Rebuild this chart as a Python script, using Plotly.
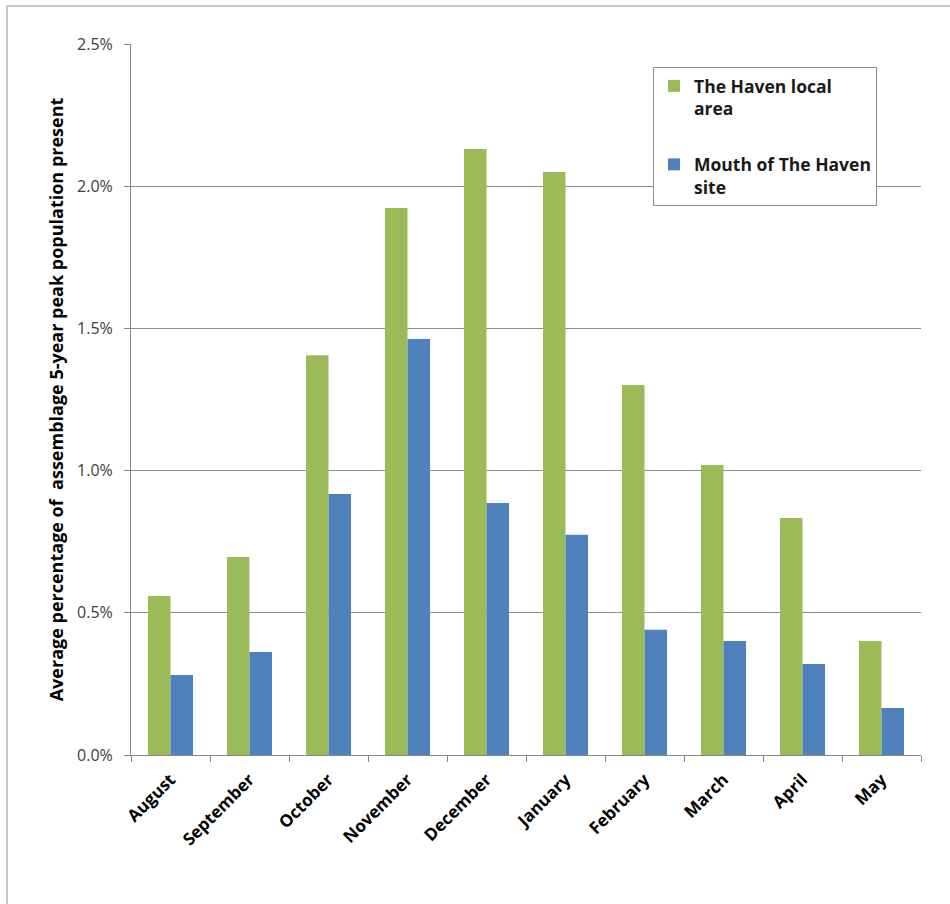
import plotly.graph_objects as go

months = ["August", "September", "October", "November", "December",
          "January", "February", "March", "April", "May"]
haven_local = [0.559, 0.696, 1.406, 1.923, 2.131, 2.050, 1.301, 1.020, 0.833, 0.401]
mouth_site = [0.281, 0.362, 0.918, 1.463, 0.886, 0.774, 0.440, 0.401, 0.320, 0.165]
y_ticks = [0.0, 0.5, 1.0, 1.5, 2.0, 2.5]
y_tick_labels = ["0.0%", "0.5%", "1.0%", "1.5%", "2.0%", "2.5%"]

W, H = 950, 904
L, R, T, B = 131, 29, 44, 149
pw, ph = W - L - R, H - T - B

font_family = "Open Sans, Liberation Sans, Arial, sans-serif"

fig = go.Figure()
fig.add_trace(go.Bar(x=months, y=haven_local, name="The Haven local<br>area",
                     marker=dict(color="#9BBB59", line=dict(width=0)),
                     legendgroup="a"))
fig.add_trace(go.Bar(x=months, y=mouth_site, name="Mouth of The Haven<br>site",
                     marker=dict(color="#4F81BD", line=dict(width=0)),
                     legendgroup="b"))

def px_x(p):
    return (p - L) / pw

def px_y(p):
    return (H - B - p) / ph

fig.add_shape(type="rect", xref="paper", yref="paper",
              x0=px_x(7), x1=px_x(970), y0=px_y(930), y1=px_y(6),
              line=dict(color="#8c8c8c", width=1), fillcolor="rgba(0,0,0,0)",
              layer="below")

fig.update_layout(
    width=W, height=H,
    margin=dict(l=L, r=R, t=T, b=B),
    paper_bgcolor="white", plot_bgcolor="white",
    barmode="group", bargap=0.43, bargroupgap=0,
    font=dict(family=font_family, color="#000000"),
    showlegend=True,
    legend=dict(x=px_x(653), y=px_y(67), xanchor="left", yanchor="top",
                bgcolor="white", bordercolor="#8c8c8c", borderwidth=1,
                font=dict(size=17.5, color="#1a1a1a", family=font_family, weight="bold"),
                traceorder="grouped", tracegroupgap=30,
                itemwidth=30, valign="top"),
    xaxis=dict(
        type="category", tickangle=-45,
        tickfont=dict(size=17, family=font_family, color="#000000", weight="bold"),
        showline=True, linecolor="#868686", linewidth=1,
        ticks="outside", ticklen=6, tickcolor="#868686",
        tickson="boundaries", showgrid=False,
        range=[-0.5, 9.5], ticklabelstandoff=7,
    ),
    yaxis=dict(
        range=[0, 2.5], tickvals=y_ticks, ticktext=y_tick_labels,
        tickfont=dict(size=16, color="#404040", family=font_family),
        showline=True, linecolor="#868686", linewidth=1,
        ticks="outside", ticklen=6, tickcolor="#868686",
        showgrid=True, gridcolor="#8c8c8c", gridwidth=1,
        zeroline=False, ticklabelstandoff=8,
        title=dict(text="Average percentage of  assemblage 5-year peak population present",
                   font=dict(size=18, family=font_family, color="#000000", weight="bold"),
                   standoff=8),
    ),
)

fig.write_html("out.html")
